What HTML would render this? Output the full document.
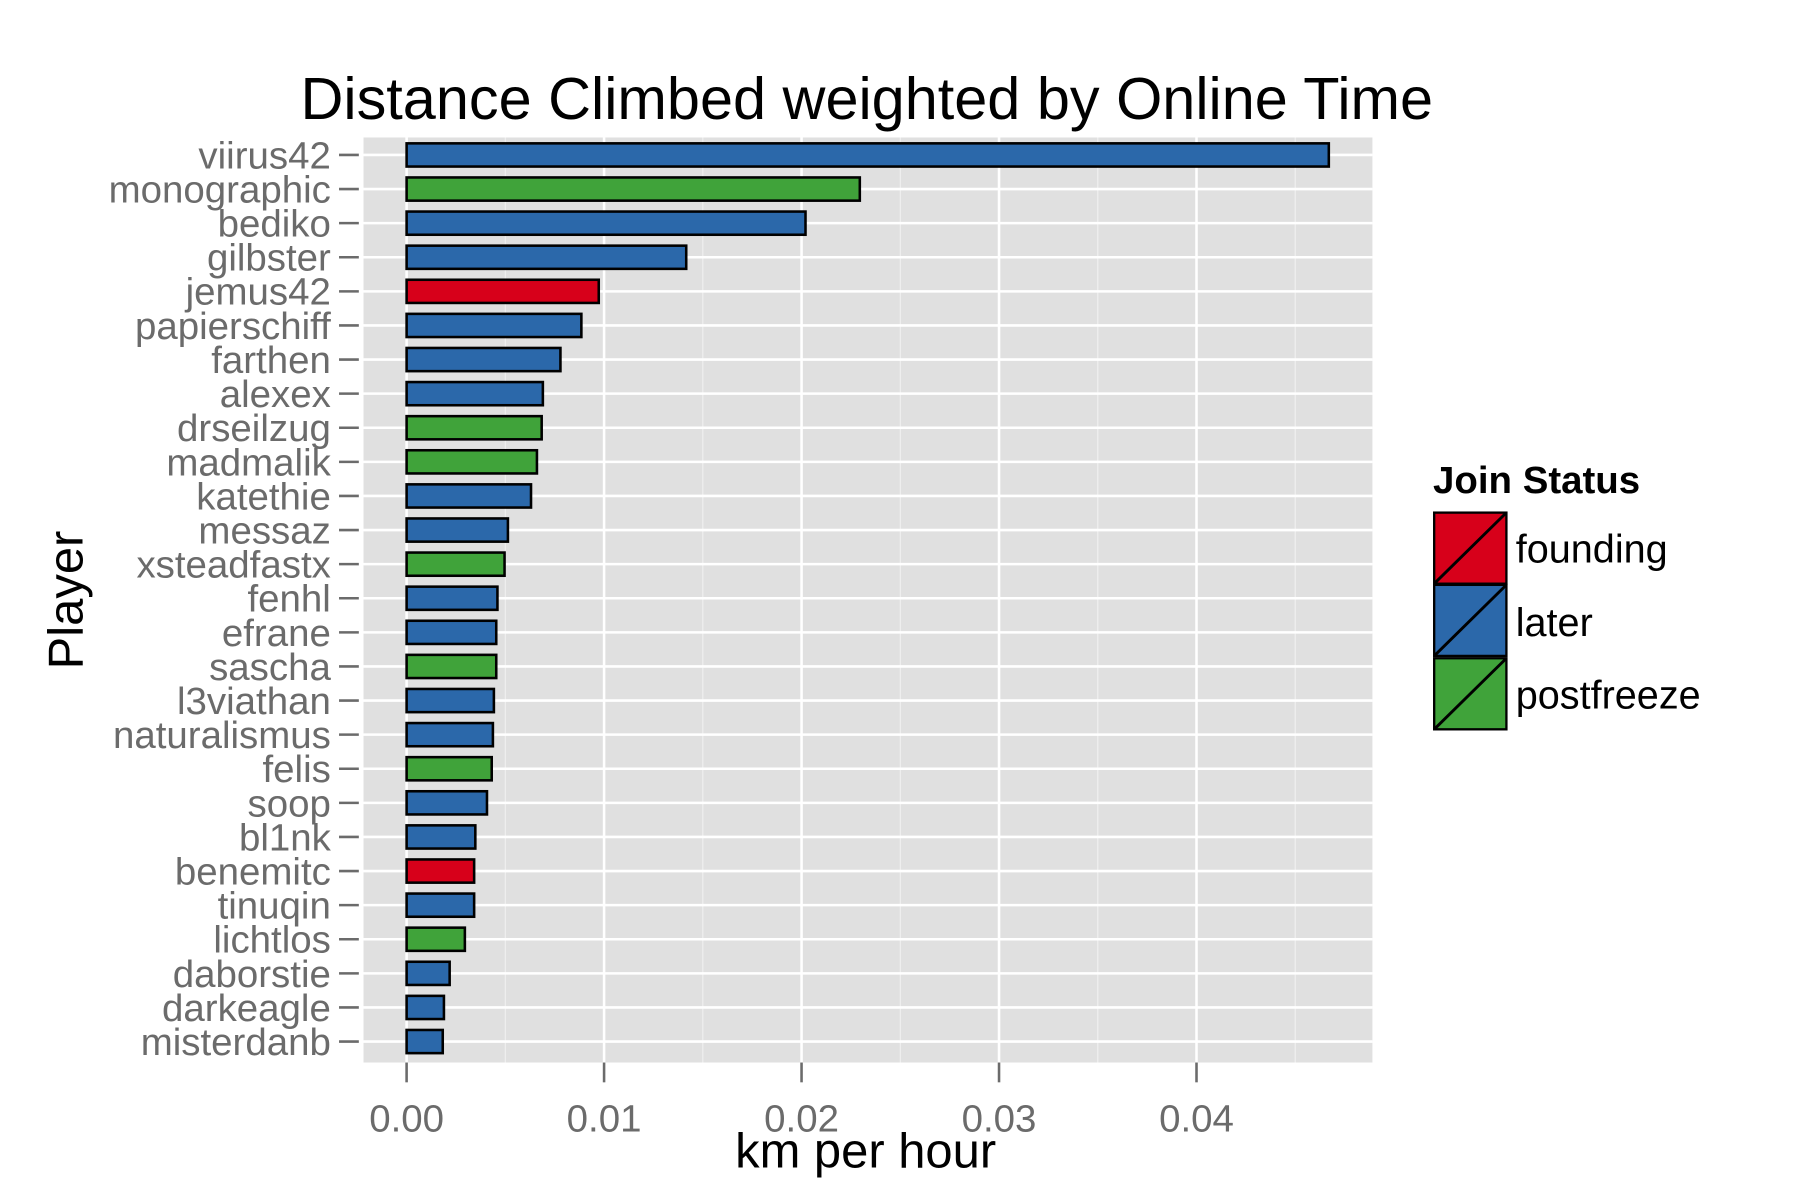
<!DOCTYPE html>
<html><head><meta charset="utf-8"><style>
html,body{margin:0;padding:0;background:#fff;}
svg{display:block;}
text{font-family:"Liberation Sans",Arial,sans-serif;}
</style></head><body>
<svg id="chart" width="1800" height="1200" viewBox="0 0 1545 1030" preserveAspectRatio="none" xmlns="http://www.w3.org/2000/svg">
<rect width="1545" height="1030" fill="#fff"/>
<text x="744" y="102" font-size="51" text-anchor="middle" fill="#000">Distance Climbed weighted by Online Time</text>
<g id="panel"></g>
<text x="743" y="1002" font-size="42" text-anchor="middle" fill="#000">km per hour</text>
<text transform="translate(71,515) rotate(-90)" font-size="42" text-anchor="middle" fill="#000">Player</text>
<g>
<text x="1230" y="423" font-size="33" font-weight="bold" fill="#000">Join Status</text>
<g>
<rect x="1231" y="440" width="62" height="61" fill="#D7001A" stroke="#000" stroke-width="2"/>
<line x1="1231" y1="501" x2="1293" y2="440" stroke="#000" stroke-width="2.5"/>
<text x="1301" y="483" font-size="34" fill="#000">founding</text></g>
<g>
<rect x="1231" y="502" width="62" height="61" fill="#2B68AA" stroke="#000" stroke-width="2"/>
<line x1="1231" y1="563" x2="1293" y2="502" stroke="#000" stroke-width="2.5"/>
<text x="1301" y="546" font-size="34" fill="#000">later</text></g>
<g>
<rect x="1231" y="565" width="62" height="61" fill="#40A33A" stroke="#000" stroke-width="2"/>
<line x1="1231" y1="626" x2="1293" y2="565" stroke="#000" stroke-width="2.5"/>
<text x="1301" y="608" font-size="34" fill="#000">postfreeze</text></g>
</g>
</svg>
<script>
const players = ["viirus42","monographic","bediko","gilbster","jemus42","papierschiff","farthen","alexex","drseilzug","madmalik","katethie","messaz","xsteadfastx","fenhl","efrane","sascha","l3viathan","naturalismus","felis","soop","bl1nk","benemitc","tinuqin","lichtlos","daborstie","darkeagle","misterdanb"];
const values = [0.0467,0.02295,0.0202,0.01416,0.00973,0.00885,0.00779,0.0069,0.00684,0.0066,0.0063,0.00513,0.00496,0.0046,0.00454,0.00454,0.00442,0.00437,0.00431,0.00407,0.00348,0.00342,0.00342,0.00295,0.00218,0.00189,0.00183];
const status = ["later","postfreeze","later","later","founding","later","later","later","postfreeze","postfreeze","later","later","postfreeze","later","later","postfreeze","later","later","postfreeze","later","later","founding","later","postfreeze","later","later","later"];
const xTicks = [0,0.01,0.02,0.03,0.04];
const xTickLabels = ["0.00","0.01","0.02","0.03","0.04"];
const colors = {founding:"#D7001A", later:"#2B68AA", postfreeze:"#40A33A"};

const NS="http://www.w3.org/2000/svg";
const P={x0:312,x1:1178,y0:118,y1:912};
const xs=v=>349+v*(1027-349)/0.04;
const step=(894-133)/26;
const ys=i=>133+i*step;
const g=document.getElementById('panel');
function mk(t,a,parent){const e=document.createElementNS(NS,t);for(const k in a)e.setAttribute(k,a[k]);(parent||g).appendChild(e);return e;}
const bg=mk('rect',{x:P.x0,y:P.y0,width:P.x1-P.x0,height:P.y1-P.y0,fill:'#E0E0E0'});


for(let k=0;k<xTicks.length;k++){const v=xTicks[k]+0.005;const x=xs(v);if(x>P.x1)continue;
 const l=mk('line',{x1:x,x2:x,y1:P.y0,y2:P.y1,stroke:'#f0f0f0','stroke-width':1});
 
 }
xTicks.forEach((v,k)=>{const x=xs(v);
 const l=mk('line',{x1:x,x2:x,y1:P.y0,y2:P.y1,stroke:'#fff','stroke-width':2.2});
 
 
 const t=mk('line',{x1:x,x2:x,y1:P.y1,y2:P.y1+17,stroke:'#6b6b6b','stroke-width':2.2});
 
 
 const tx=mk('text',{x:x,y:971,'font-size':33,'text-anchor':'middle',fill:'#6b6b6b'});
 tx.textContent=xTickLabels[k];
 
 });
players.forEach((p,i)=>{const y=ys(i);
 const l=mk('line',{x1:P.x0,x2:P.x1,y1:y,y2:y,stroke:'#fff','stroke-width':2.2});
 
 
 const t=mk('line',{x1:291,x2:P.x0-4,y1:y,y2:y,stroke:'#6b6b6b','stroke-width':2.2});
 
 
 const tx=mk('text',{x:284,y:y+11.5,'font-size':33,'text-anchor':'end',fill:'#6b6b6b'});
 tx.textContent=p;
 
 });
const bh=step*0.68;
players.forEach((p,i)=>{const y=ys(i);
 const b=mk('rect',{x:xs(0),y:y-bh/2,width:xs(values[i])-xs(0),height:bh,fill:colors[status[i]],stroke:'#000','stroke-width':2.2});
 
 });
</script>
</body></html>
